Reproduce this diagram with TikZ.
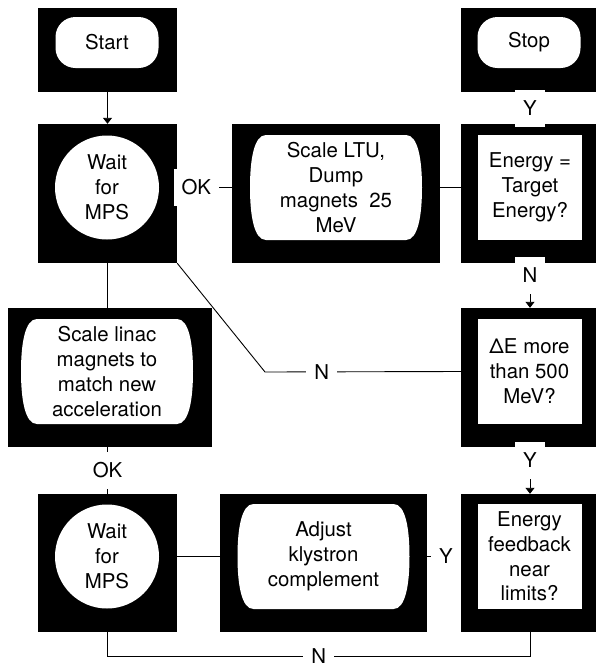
\documentclass[tikz,border=0pt]{standalone}
\usepackage{fontspec}
\setmainfont{TeX Gyre Heros}
\usetikzlibrary{%
		arrows.meta%
		,calc%
	}

\tikzset{%
	frame/.style={fill=black, inner sep=0pt},
	txt/.style={align=center, inner sep=0pt, font=\fontsize{20.4}{24.8}\selectfont},
	term/.style={txt, fill=white, rounded corners=20pt, minimum width=103pt, minimum height=51pt},
	waitc/.style={txt, circle, fill=white, minimum size=104pt},
	decide/.style={txt, fill=white, minimum width=104pt, minimum height=105pt},
	lbl/.style={fill=white, inner xsep=8pt, minimum height=37pt, font=\fontsize{20.4}{24.8}\selectfont},
	conn/.style={line width=0.9pt},
	arr/.style={conn, -{Triangle[width=9pt,length=6pt]}}
}

% white process shape with bulging sides, text on top
\newcommand{\procnode}[4]{%
	\fill[white] (#2-70,#3-52.5) -- (#2+70,#3-52.5)
		.. controls (#2+82,#3-52.5) and (#2+86,#3-28) .. (#2+86,#3)
		.. controls (#2+86,#3+28) and (#2+82,#3+52.5) .. (#2+70,#3+52.5)
		-- (#2-70,#3+52.5)
		.. controls (#2-82,#3+52.5) and (#2-86,#3+28) .. (#2-86,#3)
		.. controls (#2-86,#3-28) and (#2-82,#3-52.5) .. (#2-70,#3-52.5) -- cycle;
	\node[txt] (#1) at (#2,#3) {#4};
}

\begin{document}
\begin{tikzpicture}[x=1pt, y=-1pt]
			\useasboundingbox (0,0) rectangle (595,667);
			
			% Black frames
			\foreach \n/\x/\y/\w/\h in {startf/107.5/50/139/84, stopf/530/50/138/84,
				w1f/107.5/193.5/139/139, ltuf/336/193.5/208/139, tgtf/530/193.5/138/139,
				linf/110/377.5/204/139, dEf/530/377.5/138/139,
				w2f/107.5/563/139/138, adjf/323.5/563/207/138, fbf/530/563/138/138}	{
				\node[frame, minimum width=\w pt, minimum height=\h pt] (\n) at (\x,\y) {};
			}
			
			% Terminals
			\node[term] (start) at (107,42.5) {Start};
			\node[term] (stop) at (529,42.5) {Stop};
			
			% Waits
			\node[waitc] (w1) at (107,187.5) {Wait\\for\\MPS};
			\node[waitc] (w2) at (107,556.5) {Wait\\for\\MPS};
			
			% Processes
			\procnode{ltu}{336}{187.5}{Scale LTU,\\Dump\\magnets~ 25\\MeV}
			\procnode{lin}{107}{371.5}{Scale linac\\magnets to\\match new\\acceleration}
			\procnode{adj}{323.5}{556.5}{Adjust\\klystron\\complement}
			
			% Decisions
			\node[decide] (tgt) at (530,187.5) {Energy =\\Target\\Energy?};
			\node[decide] (dE) at (529.5,371.5) {ΔE more\\than 500\\MeV?};
			\node[decide] (fb) at (529.5,556.5) {Energy\\feedback\\near\\limits?};
			
			% Connectors
			\coordinate (bend) at (265,372);
			\coordinate (low) at (0,656);
			\draw[arr] (startf) -- (w1f);
			\draw[conn] (w1f.east |- w1) -- node[lbl, pos=0.35] (ok1) {OK} (ltuf.west |- w1);
			\draw[conn] (ltuf.east |- ltu) -- (tgtf.west |- tgt);
			\draw[arr] (tgtf) -- node[lbl] (y1) {Y} (stopf);
			\draw[arr] (tgtf) -- node[lbl, pos=0.27] (n1) {N} (dEf);
			\draw[conn] (w1f) -- (w1f.south |- linf.north);
			\draw[conn] (linf.south -| w1f) -- node[lbl] (ok2) {OK} (w2f);
			\draw[conn] (dEf.west |- dE) -- node[lbl, pos=0.71] (n2) {N} (bend) -- (w1f.south east);
			\draw[arr] (dEf) -- node[lbl, pos=0.28] (y2) {Y} (fbf);
			\draw[conn] (w2f.east |- w2) -- (adjf.west |- adj);
			\draw[conn] (adjf.east |- adj) -- node[lbl, pos=0.56] (y3) {Y} (fbf.west |- fb);
			\draw[conn] (fbf.south) -- (fbf.south |- low) -- node[lbl, inner ysep=1pt, minimum height=14pt] (n3) {N} (w2f.south |- low) -- (w2f.south);
		\end{tikzpicture}
\end{document}
